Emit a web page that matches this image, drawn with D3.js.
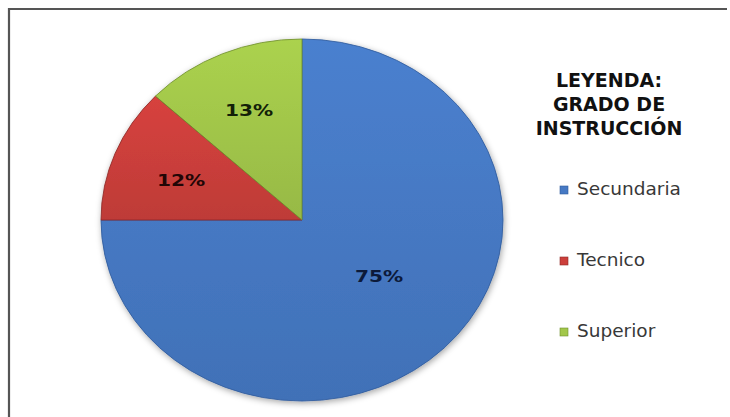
<!DOCTYPE html>
<html><head><meta charset="utf-8">
<script src="https://cdn.jsdelivr.net/npm/d3@7/dist/d3.min.js"></script>
<style>html,body{margin:0;padding:0;background:#fff;}svg{display:block;}</style>
</head><body>
<script>
const categories = ["Secundaria", "Tecnico", "Superior"];
const values = [75, 12, 13];
const labels = ["75%", "12%", "13%"];
const legendTitle = ["LEYENDA:", "GRADO DE", "INSTRUCCIÓN"];
const colors = ["#4679c4", "#cc3f3b", "#a2c74a"];
const edgeColors = ["#2f5b9c", "#8e2a27", "#6f8f2c"];
const labelColors = ["#0c1a3a", "#220606", "#122008"];

const W = 730, H = 417;
const svg = d3.select("body").append("svg").attr("width", W).attr("height", H);

const defs = svg.append("defs");
const f = defs.append("filter").attr("id", "sh").attr("x", "-20%").attr("y", "-20%").attr("width", "140%").attr("height", "140%");
f.append("feDropShadow").attr("dx", 1).attr("dy", 2).attr("stdDeviation", 3).attr("flood-color", "#000").attr("flood-opacity", 0.35);

colors.forEach((c, i) => {
  const g = defs.append("linearGradient").attr("id", "g" + i).attr("x1", 0).attr("y1", 0).attr("x2", 0).attr("y2", 1);
  g.append("stop").attr("offset", "0%").attr("stop-color", d3.color(c).brighter(0.15));
  g.append("stop").attr("offset", "100%").attr("stop-color", d3.color(c).darker(0.2));
});

// frame
svg.append("path").attr("d", "M9,417 L9,9 L727,9").attr("fill", "none").attr("stroke", "#555").attr("stroke-width", 2.2);

const cx = 302, cy = 220, rx = 201, ry = 181;
const pie = d3.pie().sort(null).value(d => d)(values);
const arc = d3.arc().innerRadius(0).outerRadius(ry);
const pg = svg.append("g").attr("transform", `translate(${cx},${cy}) scale(${rx / ry},1)`);

pg.append("g").attr("filter", "url(#sh)")
  .selectAll("path").data(pie).join("path")
  .attr("d", arc)
  .attr("fill", (d, i) => `url(#g${i})`)
  .attr("stroke", (d, i) => edgeColors[i])
  .attr("stroke-width", 0.8)
  .attr("stroke-linejoin", "round");

// labels
const lblPos = d3.arc().innerRadius(ry * 0.6).outerRadius(ry * 0.6);
svg.append("g").selectAll("text").data(pie).join("text")
  .attr("transform", (d, i) => {
    const c = lblPos.centroid(d);
    let x = cx + c[0] * rx / ry, y = cy + c[1];
    if (i === 0) { x = 379; y = 276; }
    if (i === 1) { x = 181; y = 180; }
    if (i === 2) { x = 249; y = 110; }
    return `translate(${x},${y}) scale(1.3,1)`;
  })
  .attr("text-anchor", "middle").attr("dominant-baseline", "central")
  .attr("font-family", "DejaVu Sans, Verdana, sans-serif").attr("font-weight", "bold")
  .attr("font-size", 15.5)
  .attr("fill", (d, i) => labelColors[i])
  .text((d, i) => labels[i]);

// legend title
svg.append("g").selectAll("text").data(legendTitle).join("text")
  .attr("x", 609).attr("y", (d, i) => 87 + i * 24)
  .attr("text-anchor", "middle")
  .attr("font-family", "DejaVu Sans, Verdana, sans-serif").attr("font-weight", "bold")
  .attr("font-size", 19).attr("fill", "#111")
  .text(d => d);

// legend items
const lg = svg.append("g").selectAll("g").data(categories).join("g")
  .attr("transform", (d, i) => `translate(560,${195 + i * 71})`);
lg.append("rect").attr("x", 0).attr("y", -9).attr("width", 8).attr("height", 8)
  .attr("fill", (d, i) => colors[i]).attr("stroke", (d, i) => edgeColors[i]).attr("stroke-width", 0.6);
lg.append("text").attr("x", 17).attr("y", 0)
  .attr("font-family", "DejaVu Sans, Verdana, sans-serif")
  .attr("font-size", 18.5).attr("fill", "#383838")
  .text(d => d);
</script>
</body></html>
